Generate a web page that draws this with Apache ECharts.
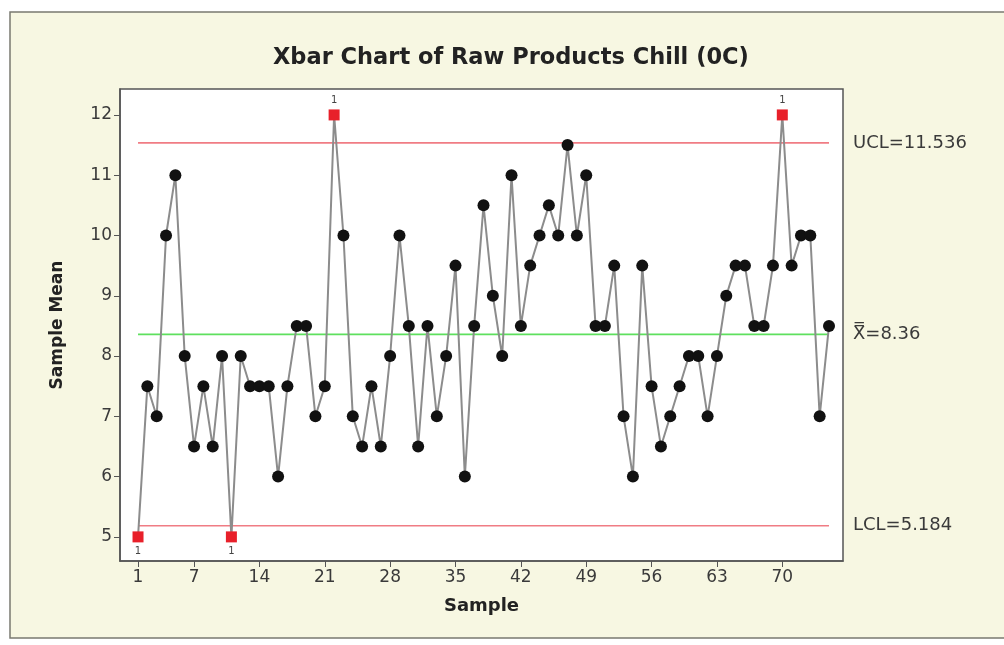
<!DOCTYPE html>
<html>
<head>
<meta charset="utf-8">
<script src="https://cdn.jsdelivr.net/npm/echarts@6/dist/echarts.min.js"></script>
<style>
html,body{margin:0;padding:0;background:#ffffff;}
#chart{width:1004px;height:645px;}
</style>
</head>
<body>
<div id="chart"></div>
<script>
// ---- data ----
const samples = [];
for (let i = 1; i <= 75; i++) samples.push(i);
const sampleMeans = [
  5.0, 7.5, 7.0, 10.0, 11.0, 8.0, 6.5, 7.5, 6.5, 8.0,
  5.0, 8.0, 7.5, 7.5, 7.5, 6.0, 7.5, 8.5, 8.5, 7.0,
  7.5, 12.0, 10.0, 7.0, 6.5, 7.5, 6.5, 8.0, 10.0, 8.5,
  6.5, 8.5, 7.0, 8.0, 9.5, 6.0, 8.5, 10.5, 9.0, 8.0,
  11.0, 8.5, 9.5, 10.0, 10.5, 10.0, 11.5, 10.0, 11.0, 8.5,
  8.5, 9.5, 7.0, 6.0, 9.5, 7.5, 6.5, 7.0, 7.5, 8.0,
  8.0, 7.0, 8.0, 9.0, 9.5, 9.5, 8.5, 8.5, 9.5, 12.0,
  9.5, 10.0, 10.0, 7.0, 8.5
];
const UCL = 11.536;
const CENTER = 8.36;
const LCL = 5.184;
const xTicks = [1, 7, 14, 21, 28, 35, 42, 49, 56, 63, 70];
const yTicks = [5, 6, 7, 8, 9, 10, 11, 12];

// ---- build ----
const first = samples[0], last = samples[samples.length - 1];
const meanData = samples.map((s, i) => {
  const v = sampleMeans[i];
  const item = { value: [s, v] };
  if (v > UCL || v < LCL) {
    item.symbol = 'rect';
    item.symbolSize = 11;
    item.itemStyle = { color: '#e8202a', borderWidth: 0 };
    item.label = {
      show: true, formatter: '1',
      position: v > UCL ? 'top' : 'bottom',
      distance: 4, fontSize: 10, color: '#444',
      fontFamily: 'DejaVu Sans'
    };
  }
  return item;
});

function limitSeries(val, color, text) {
  return {
    type: 'line', data: [[first, val], [last, val]],
    symbol: 'none', silent: true, z: 1,
    lineStyle: { color: color, width: 1.6 },
    endLabel: {
      show: true, formatter: text, distance: 24,
      fontFamily: 'DejaVu Sans', fontSize: 18, color: '#3a3a3a'
    }
  };
}

const chart = echarts.init(document.getElementById('chart'), null, { renderer: 'canvas' });
chart.setOption({
  animation: false,
  backgroundColor: 'transparent',
  graphic: [{
    type: 'rect', z: -10, silent: true,
    shape: { x: 10, y: 12, width: 1010, height: 626 },
    style: { fill: '#f7f7e2', stroke: '#7a7a70', lineWidth: 1.5 }
  }],
  title: {
    text: 'Xbar Chart of Raw Products Chill (0C)',
    left: 268, top: 42,
    textStyle: { fontFamily: 'DejaVu Sans', fontWeight: 'bold', fontSize: 22.5, color: '#222' }
  },
  grid: {
    left: 120, top: 89, right: 161, bottom: 84,
    show: true, backgroundColor: '#ffffff', borderColor: '#555', borderWidth: 1.5
  },
  xAxis: {
    type: 'value', min: -0.93, max: 76.5,
    name: 'Sample', nameLocation: 'middle', nameGap: 36,
    nameTextStyle: { fontFamily: 'DejaVu Sans', fontWeight: 'bold', fontSize: 18, color: '#222' },
    axisLine: { show: true, onZero: false, lineStyle: { color: '#555', width: 1.5 } },
    axisTick: { show: true, length: 6, lineStyle: { color: '#555' }, customValues: xTicks },
    axisLabel: { customValues: xTicks, margin: 8, fontFamily: 'DejaVu Sans', fontSize: 17, color: '#3a3a3a' },
    splitLine: { show: false }
  },
  yAxis: {
    type: 'value', min: 4.6, max: 12.43,
    name: 'Sample Mean', nameLocation: 'middle', nameGap: 54, nameRotate: 90,
    nameTextStyle: { fontFamily: 'DejaVu Sans', fontWeight: 'bold', fontSize: 17, color: '#222' },
    axisLine: { show: true, onZero: false, lineStyle: { color: '#555', width: 1.5 } },
    axisTick: { show: true, length: 6, lineStyle: { color: '#555' }, customValues: yTicks },
    axisLabel: { customValues: yTicks, margin: 8, fontFamily: 'DejaVu Sans', fontSize: 17, color: '#3a3a3a' },
    splitLine: { show: false }
  },
  series: [
    limitSeries(UCL, '#f07c84', 'UCL=' + UCL),
    limitSeries(CENTER, '#5ee05e', 'X\u033F=' + CENTER),
    limitSeries(LCL, '#f07c84', 'LCL=' + LCL),
    {
      type: 'line', data: meanData, z: 3,
      symbol: 'circle', symbolSize: 12,
      itemStyle: { color: '#111' },
      lineStyle: { color: '#8c8c8c', width: 2 }
    }
  ]
});
</script>
</body>
</html>
